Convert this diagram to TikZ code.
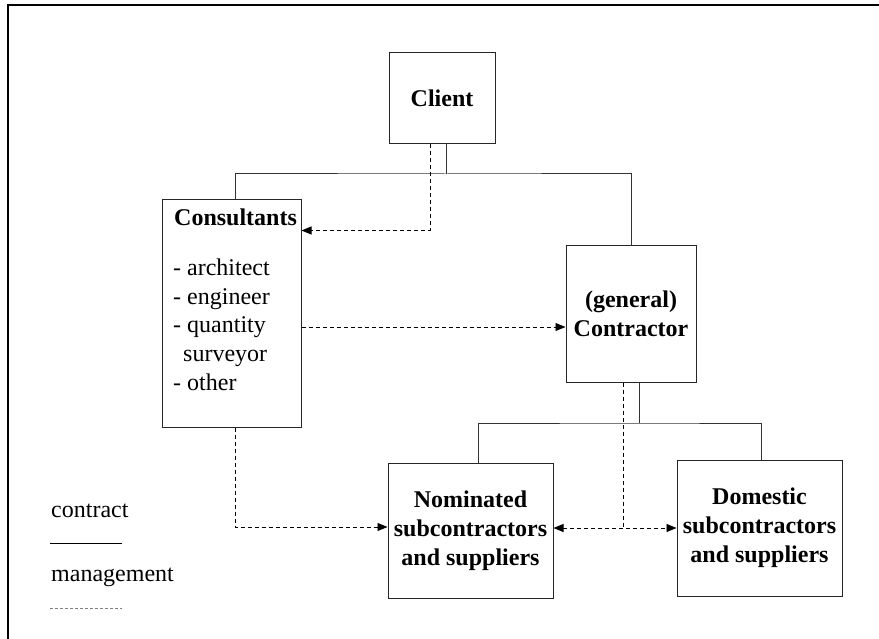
\documentclass[tikz,border=0pt]{standalone}
\usepackage{fontspec}
\setmainfont{Liberation Serif}
\usetikzlibrary{arrows.meta}
\begin{document}
\begin{tikzpicture}[x=1pt,y=-1pt,
  box/.style={draw=black!85, line width=1pt, inner sep=0pt, align=center,
    font=\fontsize{24}{29}\selectfont\bfseries},
  con/.style={draw=black!80, line width=1pt},
  mgmt/.style={draw=black, line width=0.9pt, dash pattern=on 4pt off 3pt},
  tip/.style={-{Triangle[length=10pt,width=8pt]}},
  tips/.style={{Triangle[length=10pt,width=8pt]}-{Triangle[length=10pt,width=8pt]}},
  rtxt/.style={font=\fontsize{24}{29}\selectfont, inner sep=0pt, anchor=mid west}]
\useasboundingbox (0,0) rectangle (879,639);
\draw[line width=2pt] (8,639) -- (8,5) -- (879,5);

% boxes
\node[box, minimum width=106pt, minimum height=91pt] (client) at (442,98.5) {Client};
\node[box, minimum width=139pt, minimum height=227pt] (cons) at (231.5,313.5) {};
\node[box, minimum width=130pt, minimum height=136pt] (contr) at (631,314) {(general)\\Contractor};
\node[box, minimum width=165pt, minimum height=135pt] (nom) at (470.5,530.5) {Nominated\\subcontractors\\ and suppliers};
\node[box, minimum width=165pt, minimum height=136pt] (dom) at (759.5,528) {Domestic\\subcontractors\\and suppliers};

% consultants text
\node[rtxt] (ct) at (174,223) {\bfseries Consultants};
\node[rtxt] (c1) at (173,273) {- architect};
\node[rtxt] (c2) at (173,302) {- engineer};
\node[rtxt] (c3) at (173,330) {- quantity};
\node[rtxt] (c4) at (183,359) {surveyor};
\node[rtxt] (c5) at (173,388) {- other};

% contract lines
\coordinate (bus1) at (446,174);
\coordinate (bus2) at (639,423);
\draw[con] ([xshift=4pt]client.south) -- (bus1);
\draw[con] ([xshift=3.5pt]cons.north) |- (bus1) -| (contr.north);
\draw[con] ([xshift=8pt]contr.south) -- (bus2);
\draw[con] ([xshift=7.5pt]nom.north) |- (bus2) -| ([xshift=1.5pt]dom.north);

% management lines
\draw[mgmt,tip] ([xshift=-12pt]client.south) |- ([yshift=-31pt]cons.north east);
\draw[mgmt,tip] ([yshift=-13.5pt]cons.east) -- ([yshift=-13pt]contr.west);
\draw[mgmt,tip] ([xshift=3.5pt]cons.south) |- ([yshift=3.5pt]nom.west);
\coordinate (m2) at (623,528);
\draw[mgmt] ([xshift=-8pt]contr.south) -- (m2);
\draw[mgmt,tips] ([yshift=2.5pt]nom.east) -- (dom.west);

% legend
\node[rtxt] (lc) at (51,515) {contract};
\coordinate (l1a) at (50,543);
\coordinate (l1b) at (122,543);
\draw[line width=1pt] (l1a) -- (l1b);
\node[rtxt] (lm) at (51,579) {management};
\coordinate (l2a) at (50,608);
\coordinate (l2b) at (122,608);
\draw[gray, line width=1pt, dash pattern=on 3pt off 2pt] (l2a) -- (l2b);
\end{tikzpicture}
\end{document}
